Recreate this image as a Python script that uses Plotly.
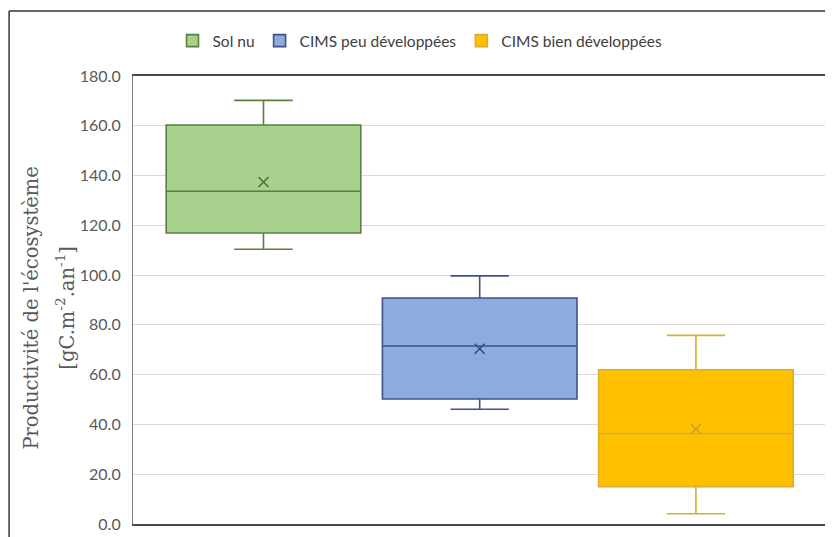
import plotly.graph_objects as go

categories = ["Sol nu", "CIMS peu développées", "CIMS bien développées"]
lower_whisker = [110.4, 46.1, 4.1]
q1_values = [116.9, 50.2, 15.0]
median_values = [133.7, 71.5, 36.3]
q3_values = [160.3, 90.8, 62.0]
upper_whisker = [170.2, 99.7, 75.8]
mean_values = [137.4, 70.4, 38.2]
y_ticks = [0, 20, 40, 60, 80, 100, 120, 140, 160, 180]
y_title_lines = ["Productivité de l'écosystème", "[gC.m<sup>-2</sup>.an<sup>-1</sup>]"]

fill_colors = ["#a9d18e", "#8faadc", "#ffc000"]
line_colors = ["#5b7f3f", "#3a5588", "#dcae2c"]
mean_colors = ["#4f7035", "#2f4a7a", "#c9a020"]

fig = go.Figure()
for i, cat in enumerate(categories):
    fig.add_trace(go.Box(
        name=cat,
        x=[cat],
        q1=[q1_values[i]], median=[median_values[i]], q3=[q3_values[i]],
        lowerfence=[lower_whisker[i]], upperfence=[upper_whisker[i]],
        fillcolor=fill_colors[i],
        line=dict(color=line_colors[i], width=1.6),
        whiskerwidth=0.3,
        width=0.9,
        boxpoints=False,
        hoverinfo="skip",
    ))
for i, cat in enumerate(categories):
    fig.add_trace(go.Scatter(
        x=[cat], y=[mean_values[i]], mode="markers",
        marker=dict(symbol="x-thin", size=10, line=dict(color=mean_colors[i], width=1.5)),
        showlegend=False, hoverinfo="skip",
    ))

frame = "#4a4a4a"
title_font = dict(family="DejaVu Serif, serif", size=19.5, color="#595959")
fig.update_layout(
    width=825, height=529,
    margin=dict(l=125, r=0, t=68, b=12.5),
    paper_bgcolor="white", plot_bgcolor="white",
    font=dict(family="Lato, Open Sans, sans-serif", color="#595959"),
    showlegend=True,
    legend=dict(orientation="h", x=0.41, xanchor="center", y=1.078, yanchor="middle",
                font=dict(size=15.5, color="#404040"), itemwidth=30,
                bgcolor="rgba(0,0,0,0)"),
    boxmode="overlay",
    xaxis=dict(type="category", categoryorder="array", categoryarray=categories,
               range=[-0.6035, 2.634], showticklabels=False, showgrid=False,
               showline=True, linecolor=frame, linewidth=1.5, mirror=True,
               zeroline=False, fixedrange=True),
    yaxis=dict(range=[0, 180], tickvals=y_ticks, tickformat=".1f",
               showgrid=True, gridcolor="#d9d9d9", gridwidth=1,
               showline=True, linecolor="#7f7f7f", linewidth=1.2,
               zeroline=False, ticks="", ticklabelstandoff=8,
               tickfont=dict(size=16, color="#595959")),
    annotations=[
        dict(text=y_title_lines[0], xref="paper", yref="paper", x=-0.1443, y=0.483,
             xanchor="center", yanchor="middle", textangle=-90, showarrow=False, font=title_font),
        dict(text=y_title_lines[1], xref="paper", yref="paper", x=-0.0971, y=0.483,
             xanchor="center", yanchor="middle", textangle=-90, showarrow=False, font=title_font),
    ],
    shapes=[
        dict(type="line", xref="paper", yref="paper", x0=-0.177, x1=1.05, y0=1.145, y1=1.145,
             line=dict(color="#333333", width=1.5)),
        dict(type="line", xref="paper", yref="paper", x0=-0.177, x1=-0.177, y0=-0.1, y1=1.145,
             line=dict(color="#333333", width=1.5)),
    ],
)

fig.write_html("out.html")
